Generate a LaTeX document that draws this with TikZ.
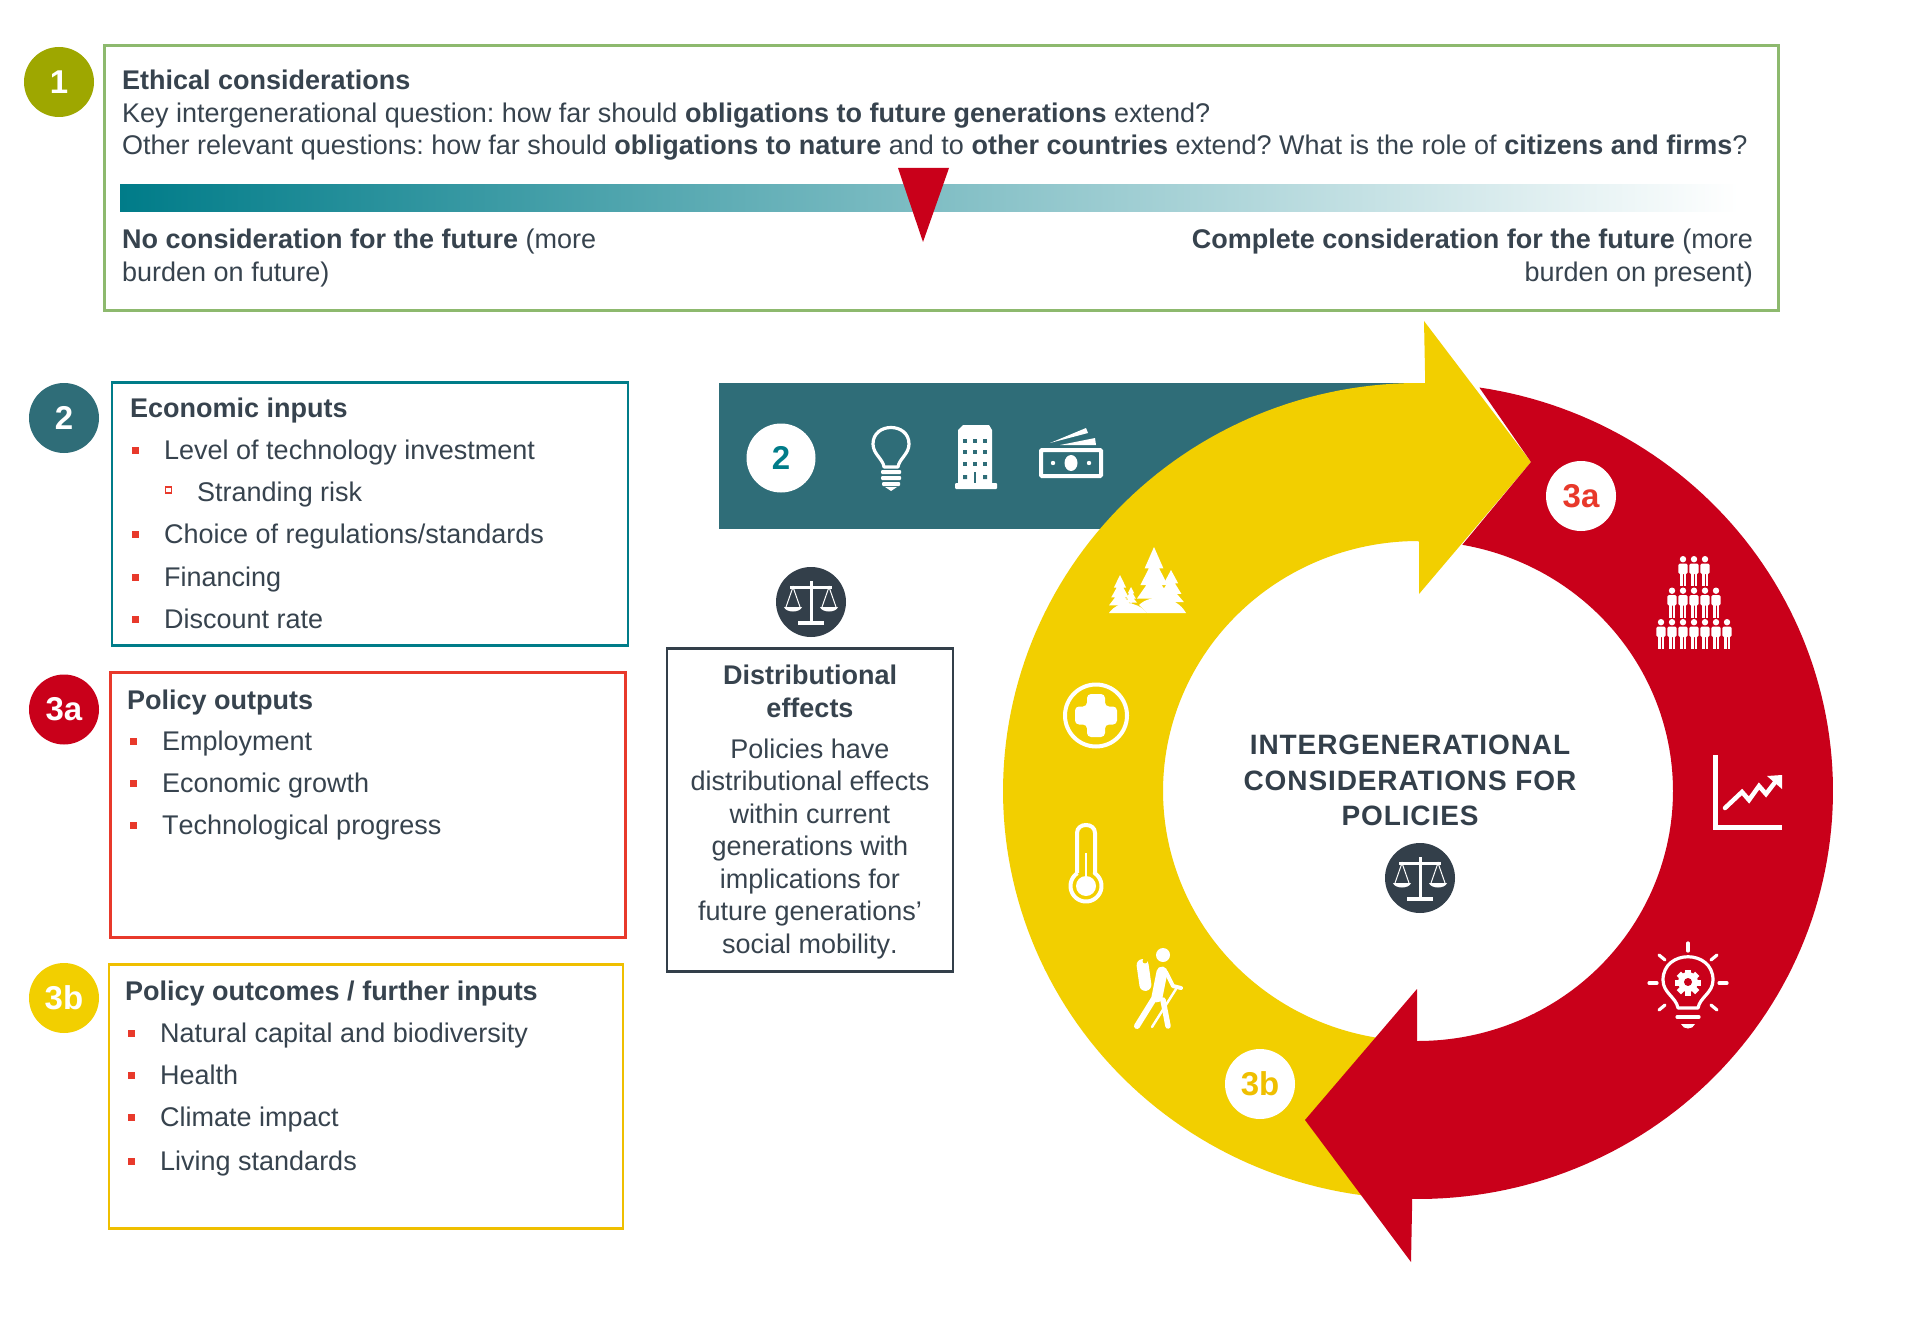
\documentclass[tikz,border=0pt]{standalone}
\usepackage{fontspec}
\setmainfont[Kerning=Off]{Liberation Sans}
\newfontfamily\titlefont[LetterSpace=3.2]{Liberation Sans}
\definecolor{txt}{HTML}{37434E}
\definecolor{slate}{HTML}{333F4A}
\definecolor{olive}{HTML}{9EA700}
\definecolor{lgreen}{HTML}{8DB96E}
\definecolor{teal2}{HTML}{007C89}
\definecolor{bandc}{HTML}{2F6D78}
\definecolor{redc}{HTML}{C9001A}
\definecolor{oranger}{HTML}{E8392B}
\definecolor{yelc}{HTML}{F2CF00}
\definecolor{yelb}{HTML}{EFBF00}
\tikzset{
  bodyt/.style={text=txt,inner sep=0pt,font=\fontsize{27}{32.5}\selectfont\frenchspacing},
  boxn/.style={draw,line width=2.8pt,fill=none,inner sep=0pt,outer sep=0pt,anchor=north west},
  numc/.style={circle,inner sep=0pt,minimum size=70pt,font=\fontsize{33}{33}\selectfont\bfseries},
  wline/.style={draw=white,line width=3.2pt,line cap=round,line join=round},
}
\newcommand{\bitem}[5]{% name, bullet x, text x, baseline y, text
  \fill[oranger] (#2-3.5,#4-12.5) rectangle (#2+3.5,#4-5.5);
  \node[bodyt,anchor=base west] (#1) at (#3,#4) {#5};
}
\newcommand{\pine}[4]{% x, base y, height, half width
  \fill[white] (#1,#2-#3) -- (#1+0.55*#4,#2-0.62*#3) -- (#1+0.3*#4,#2-0.62*#3) -- (#1+0.8*#4,#2-0.32*#3) -- (#1+0.45*#4,#2-0.32*#3) -- (#1+#4,#2-0.08*#3)
   -- (#1+0.12*#4,#2-0.08*#3) -- (#1+0.12*#4,#2) -- (#1-0.12*#4,#2) -- (#1-0.12*#4,#2-0.08*#3) -- (#1-#4,#2-0.08*#3) -- (#1-0.45*#4,#2-0.32*#3) -- (#1-0.8*#4,#2-0.32*#3)
   -- (#1-0.3*#4,#2-0.62*#3) -- (#1-0.55*#4,#2-0.62*#3) -- cycle;
}
\newcommand{\balanceicon}[3]{% name, x, y
  \node[circle,fill=slate,inner sep=0pt,minimum size=70pt] (#1) at (#2,#3) {};
  \begin{scope}[shift={(#2,#3)}]
    \fill[white] (-1.5,-21) rectangle (1.5,20);
    \fill[white] (-13,19) rectangle (13,23);
    \fill[white] (-21,-16) rectangle (21,-13.5);
    \draw[white,line width=1pt] (-25,5) -- (-18,-15) -- (-11,5) (25,5) -- (18,-15) -- (11,5);
    \fill[white] (-27,5) -- (-9,5) .. controls (-11,11) and (-25,11) .. cycle;
    \fill[white] (27,5) -- (9,5) .. controls (11,11) and (25,11) .. cycle;
  \end{scope}
}
\newcommand{\personicon}[2]{% x, top y
  \fill[white] (#1,#2+3.2) circle (3.2pt);
  \fill[white,rounded corners=1.5pt] (#1-4.6,#2+7.5) rectangle (#1+4.6,#2+18);
  \fill[white] (#1-3.4,#2+17) rectangle (#1-0.5,#2+30);
  \fill[white] (#1+0.5,#2+17) rectangle (#1+3.4,#2+30);
}
\begin{document}
\begin{tikzpicture}[x=1pt,y=-1pt]
\useasboundingbox (0,0) rectangle (1920,1324);
\fill[white] (0,0) rectangle (1920,1324);

% ---- box 1
\node[numc,fill=olive,text=white] (n1) at (59,82) {1};
\node[boxn,draw=lgreen,minimum width=1674pt,minimum height=265pt] (box1) at (104.5,45.5) {};
\node[bodyt,anchor=north west,align=left] (t1) at (122,70) {\textbf{Ethical considerations}\\
Key intergenerational question: how far should \textbf{obligations to future generations} extend?\\
Other relevant questions: how far should \textbf{obligations to nature} and to \textbf{other countries} extend? What is the role of \textbf{citizens and firms}?};
\shade[left color=teal2,right color=white,shading angle=90] (120,185) rectangle (1739,212);
\coordinate (ta) at (898,168); \coordinate (tb) at (949,168); \coordinate (tc) at (923,242);
\fill[redc] (ta) -- (tb) -- (tc) -- cycle;
\node[bodyt,anchor=north west,align=left] (noc) at (122,229) {\textbf{No consideration for the future} (more\\burden on future)};
\node[bodyt,anchor=north east,align=right] (coc) at (1753,229) {\textbf{Complete consideration for the future} (more\\burden on present)};

% ---- box 2
\node[numc,fill=bandc,text=white] (n2) at (64,418) {2};
\node[boxn,draw=teal2,minimum width=516pt,minimum height=263pt] (box2) at (112,382.5) {};
\node[bodyt,anchor=base west] (h2) at (130,417) {\textbf{Economic inputs}};
\bitem{i21}{135}{164}{459}{Level of technology investment}
\draw[oranger,line width=1.4pt] (165.5,487) rectangle (171.5,493);
\node[bodyt,anchor=base west] (i22) at (197,501) {Stranding risk};
\bitem{i23}{135}{164}{543}{Choice of regulations/standards}
\bitem{i24}{135}{164}{586}{Financing}
\bitem{i25}{135}{164}{628}{Discount rate}

% ---- box 3a
\node[numc,fill=redc,text=white] (n3a) at (64,709.5) {3a};
\node[boxn,draw=oranger,minimum width=515pt,minimum height=265pt] (box3a) at (110.5,672.5) {};
\node[bodyt,anchor=base west] (h3a) at (127,709) {\textbf{Policy outputs}};
\bitem{i31}{133}{162}{750}{Employment}
\bitem{i32}{133}{162}{792}{Economic growth}
\bitem{i33}{133}{162}{834}{Technological progress}

% ---- box 3b
\node[numc,fill=yelc,text=white] (n3b) at (64,998) {3b};
\node[boxn,draw=yelb,minimum width=514pt,minimum height=264pt] (box3b) at (109,964.5) {};
\node[bodyt,anchor=base west] (h3b) at (125,1000) {\textbf{Policy outcomes / further inputs}};
\bitem{i41}{131}{160}{1042}{Natural capital and biodiversity}
\bitem{i42}{131}{160}{1084}{Health}
\bitem{i43}{131}{160}{1126}{Climate impact}
\bitem{i44}{131}{160}{1170}{Living standards}

% ---- band
\fill[bandc] (719,383) rectangle (1440,529);
\node[circle,fill=white,inner sep=0pt,minimum size=69pt,text=teal2,font=\fontsize{33}{33}\selectfont\bfseries] (nb2) at (781,458) {2};
% bulb
\begin{scope}[shift={(891,458)}]
  \draw[wline] (-7,9) .. controls (-8,1) and (-18,-4) .. (-18,-14) .. controls (-18,-36) and (18,-36) .. (18,-14) .. controls (18,-4) and (8,1) .. (7,9) -- cycle;
  \fill[white,rounded corners=1pt] (-10,12) rectangle (10,16);
  \fill[white,rounded corners=1pt] (-10,18) rectangle (10,22);
  \fill[white,rounded corners=1pt] (-9,24) rectangle (9,28);
  \fill[white] (-6,29) -- (6,29) -- (0,33) -- cycle;
\end{scope}
% building
\begin{scope}[shift={(976,458)}]
  \fill[white] (-13,-33) -- (13,-33) -- (16,-28) -- (16,27) -- (-18,27) -- (-18,-28) -- cycle;
  \fill[white,rounded corners=1pt] (-21,25) rectangle (21,31);
  \foreach \cx in {-11,-1,9} \foreach \cy in {-17,-6,6} \fill[bandc] (\cx-2,\cy-2) rectangle (\cx+2,\cy+2);
  \fill[bandc] (-13,17) rectangle (-9,21) (7,17) rectangle (11,21);
  \fill[bandc] (-2,14) rectangle (0,25);
\end{scope}
% money
\begin{scope}[shift={(1071,454)}]
  \draw[white,line width=4pt,rounded corners=1pt] (-30,-4) rectangle (30,22);
  \fill[white] (0,9) ellipse (6.5pt and 8pt);
  \fill[white] (-18,9) circle (2.2pt) (18,9) circle (2.2pt);
  \fill[white] (-21,-11) -- (15,-26) -- (17,-21) -- cycle;
  \fill[white] (-11,-9) -- (24,-16) -- (25,-9) -- cycle;
\end{scope}

\balanceicon{bal1}{811}{602}

% ---- distributional box
\node[boxn,draw=slate,minimum width=286pt,minimum height=323pt] (dist) at (667,648.5) {};
\node[bodyt,anchor=north,align=center] (dh) at (810,665) {\textbf{Distributional}\\\textbf{effects}};
\node[bodyt,anchor=north,align=center] (db) at (810,738.5) {Policies have\\distributional effects\\within current\\generations with\\implications for\\future generations’\\social mobility.};

% ---- ring
\fill[yelc] plot[domain=95:271,samples=120] ({1418+415*cos(\x)},{791+408*sin(\x)})
  -- (1424,321) -- (1531,462) -- (1419,594) -- (1419,542)
  -- plot[domain=270:95,samples=120] ({1418+255*cos(\x)},{791+250*sin(\x)}) -- cycle;
\fill[redc] plot[domain=278.5:450.8,samples=120] ({1418+415*cos(\x)},{791+408*sin(\x)})
  -- (1411,1262) -- (1305,1120) -- (1417,989) -- (1417,1041)
  -- plot[domain=450:280,samples=120] ({1418+255*cos(\x)},{791+250*sin(\x)})
  -- (1531,462) -- cycle;

% ---- trees
\pine{1154}{603}{56}{17}
\pine{1120}{608}{33}{11}
\pine{1131}{604}{17}{6}
\pine{1171}{605}{35}{13}
\fill[white] (1109,613) .. controls (1118,600) and (1136,600) .. (1147,613) -- cycle;
\fill[white] (1139,605) .. controls (1150,594) and (1176,595) .. (1186,613) -- (1147,613) -- cycle;

% ---- cross
\draw[white,line width=4pt] (1096,715.5) circle (31pt);
\fill[white,rounded corners=4pt] (1087,694) -- (1105,694) -- (1105,706.5) -- (1117,706.5) -- (1117,724.5) -- (1105,724.5) -- (1105,737) -- (1087,737) -- (1087,724.5) -- (1075,724.5) -- (1075,706.5) -- (1087,706.5) -- cycle;

% ---- thermometer
\draw[white,line width=4pt,line join=round] (1077,873) -- (1077,833) .. controls (1077,822.3) and (1095,822.3) .. (1095,833) -- (1095,873)
  -- plot[domain=-56:236,samples=40] ({1086+15.5*cos(\x)},{886+15.5*sin(\x)});
\fill[white] (1086,886) circle (10pt);
\fill[white] (1084.7,853) rectangle (1087.3,880);

% ---- hiker
\fill[white] (1163,955) circle (7pt);
\draw[white,line width=12pt,line cap=round,rotate around={8:(1144,975)}] (1144,965) -- (1144,985);
\fill[yelc] (1145,961) circle (2.4pt);
\draw[white,line width=11pt,line cap=round] (1162,972) -- (1157,997);
\draw[white,line width=6pt,line cap=round] (1155,997) -- (1137,1026);
\draw[white,line width=5.5pt,line cap=round] (1163,1000) -- (1168,1026);
\draw[white,line width=4pt,line cap=round,line join=round] (1166,972) -- (1173,986) -- (1181,988);
\draw[white,line width=2.4pt,line cap=round] (1176,989) -- (1152,1027);

% ---- 3a, 3b
\node[circle,fill=white,inner sep=0pt,minimum size=70pt,text=oranger,font=\fontsize{33}{33}\selectfont\bfseries] (r3a) at (1581,496) {3a};
\node[circle,fill=white,inner sep=0pt,minimum size=70pt,text=yelb,font=\fontsize{33}{33}\selectfont\bfseries] (r3b) at (1260,1084) {3b};

% ---- people
\foreach \k [evaluate=\k as \px using 1694+(\k-1)*11] in {0,1,2} {\personicon{\px}{556}}
\foreach \k [evaluate=\k as \px using 1694+(\k-2)*11] in {0,...,4} {\personicon{\px}{587.5}}
\foreach \k [evaluate=\k as \px using 1694+(\k-3)*11] in {0,...,6} {\personicon{\px}{619}}

% ---- chart
\draw[white,line width=5pt] (1715,755) -- (1715,827) -- (1782,827);
\draw[white,line width=4.5pt,line join=miter,line cap=round] (1725,808) -- (1742,792) -- (1749,800) -- (1759,786) -- (1766,794) -- (1776,781);
\fill[white] (1767,776) -- (1782,775) -- (1782,789) -- cycle;

% ---- gear bulb
\begin{scope}[shift={(1688,983)}]
  \draw[wline] (-10,25) .. controls (-12,14) and (-25,10) .. (-25,-3) .. controls (-25,-34) and (25,-34) .. (25,-3) .. controls (25,10) and (12,14) .. (10,25) -- cycle;
  \foreach \a in {0,45,...,315} {\fill[white,rotate=\a] (-3,-13) rectangle (3,0);}
  \fill[white] (0,-1) circle (10pt);
  \fill[redc] (0,-1) circle (4pt);
  \draw[wline] (-11,34) -- (11,34);
  \fill[white] (-7,41) -- (7,41) .. controls (5,47) and (-5,47) .. cycle;
  \draw[wline] (0,-40) -- (0,-32);
  \draw[wline] (-39,0) -- (-31,0) (31,0) -- (39,0);
  \draw[wline] (-29,-28) -- (-23,-23) (29,-28) -- (23,-23);
  \draw[wline] (-29,27) -- (-23,22) (29,27) -- (23,22);
\end{scope}

% ---- central title
\node[text=slate,inner sep=0pt,align=center,anchor=north,font=\fontsize{28}{35.5}\selectfont\titlefont\bfseries] (ctitle) at (1410,735) {INTERGENERATIONAL\\CONSIDERATIONS FOR\\POLICIES};
\balanceicon{bal2}{1420}{878}
\end{tikzpicture}
\end{document}
